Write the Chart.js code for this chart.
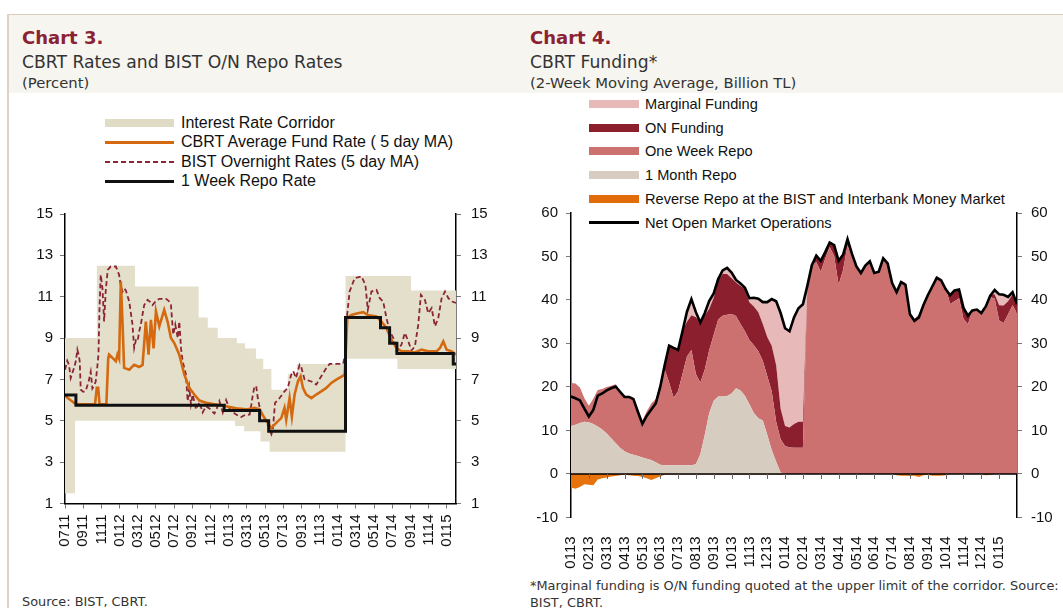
<!DOCTYPE html>
<html>
<head>
<meta charset="utf-8">
<script src="https://cdn.jsdelivr.net/npm/chart.js@4/dist/chart.umd.min.js"></script>
<style>
  body { margin: 0; width: 1063px; height: 608px; overflow: hidden; background: #fff; position: relative; }
  .abs { position: absolute; white-space: nowrap; }
  .band { left: 7px; top: 14px; width: 1056px; height: 78px; background: #f7f5f0; border-top: 1px solid #d9ccb8; }
  .vline { left: 7px; top: 14px; width: 2px; height: 594px; background: #ddd2c2; }
  .ttl { font-family: "DejaVu Sans", sans-serif; font-weight: bold; font-size: 18px; color: #8b2232; }
  .sub { font-family: "DejaVu Sans", sans-serif; font-size: 17.2px; color: #333; }
  .unit { font-family: "DejaVu Sans", sans-serif; font-size: 14.8px; color: #333; }
  .note { font-family: "DejaVu Sans", sans-serif; font-size: 12.9px; color: #333; }
  .leg { font-family: "Liberation Sans", Arial, sans-serif; color: #111; line-height: 20px; height: 20px; }
  .sw { position: absolute; }
  canvas { position: absolute; }
</style>
</head>
<body>
<div class="abs band"></div>
<div class="abs vline"></div>

<div class="abs ttl" style="left:22px; top:27px;">Chart 3.</div>
<div class="abs sub" style="left:22px; top:52px;">CBRT Rates and BIST O/N Repo Rates</div>
<div class="abs unit" style="left:22px; top:74px;">(Percent)</div>

<div class="abs ttl" style="left:530px; top:27px;">Chart 4.</div>
<div class="abs sub" style="left:530px; top:52px;">CBRT Funding*</div>
<div class="abs unit" style="left:530px; top:74px;">(2-Week Moving Average, Billion TL)</div>

<div id="legLeft"></div>
<div id="legRight"></div>

<canvas id="rates" width="520" height="370" style="left:0; top:195px;"></canvas>
<canvas id="funding" width="533" height="380" style="left:530px; top:195px;"></canvas>

<div class="abs note" style="left:22px; top:594px;">Source: BIST, CBRT.</div>
<div class="abs note" style="left:530px; top:578px;">*Marginal funding is O/N funding quoted at the upper limit of the corridor. Source:</div>
<div class="abs note" style="left:530px; top:595px;">BIST, CBRT.</div>

<script>
// ---- Chart 3 data (x = months since Jul 2011) ----
const leftTickLabels = ['0711','0911','1111','0112','0312','0512','0712','0912','1112','0113','0313',
  '0513','0713','0913','1113','0114','0314','0514','0714','0914','1114','0115'];

const corridorX     = [0, 1.1, 3.5, 7.7, 14.7, 15.7, 16.8, 18.7, 18.9, 19.7, 19.8, 21.0, 21.5, 21.8, 22.5, 22.7, 24.5, 25.5, 30.85, 36.55, 38.05, 43];
const corridorUpper = [9, 9, 12.5, 11.5, 10, 9.5, 9, 9, 8.75, 8.75, 8.5, 8, 8, 7.5, 7.5, 6.5, 7.25, 7.75, 12, 12, 11.3, 11.3];
const corridorLower = [1.5, 5, 5, 5, 5, 5, 5, 4.75, 4.75, 4.5, 4.5, 4.5, 4, 4, 3.5, 3.5, 3.5, 3.5, 8, 7.5, 7.5, 7.5];

const repoX = [0, 1.2, 17.5, 21.4, 22.4, 30.85, 34.7, 35.7, 36.5, 42.7, 43];
const repoY = [6.25, 5.75, 5.5, 5, 4.5, 10, 9.5, 8.75, 8.25, 7.75, 7.75];

const bistX = [0, 0.25, 0.44, 0.63, 0.8, 0.99, 1.2, 1.36, 1.5, 1.62, 1.73, 2.0, 2.28, 2.6, 2.83, 3.01, 3.2, 3.38, 3.55, 3.68, 3.8, 3.93,
  4.12, 4.3, 4.48, 4.7, 5.03, 5.59, 5.95, 6.15, 6.32, 6.5, 6.69, 7.06, 7.25, 7.42, 7.61, 7.8, 7.98, 8.15, 8.34, 8.55, 8.71, 9.08,
  9.35, 9.63, 10.0, 10.37, 11.1, 11.4, 11.65, 11.9, 12.13, 12.4, 12.57, 12.76, 12.94, 13.3, 13.49, 13.67, 13.85, 14.04, 14.41,
  14.78, 15.14, 15.5, 15.88, 16.43, 16.7, 16.98, 17.35, 17.72, 18.08, 18.5, 18.82, 19.37, 19.9, 20.3, 20.5, 20.66, 20.84, 21.03,
  21.2, 21.5, 21.94, 22.3, 22.7, 22.86, 23.1, 23.6, 24.14, 24.5, 24.88, 25.1, 25.4, 25.8, 25.98, 26.35, 26.7, 27.1, 27.63, 28.18,
  28.74, 29.1, 30.58, 30.8, 30.95, 31.3, 31.86, 32.6, 33.04, 33.3, 33.7, 34.25, 34.62, 34.99, 35.35, 35.72, 36.2, 36.46, 37.0,
  37.38, 37.75, 38.11, 38.48, 38.85, 39.14, 39.58, 39.95, 40.32, 40.69, 41.05, 41.42, 41.79, 42.16, 42.53, 43];
const bistY = [7.47, 7.9, 7.71, 7.07, 7.3, 7.55, 7.9, 8.44, 8.2, 7.88, 6.5, 6.4, 6.45, 6.9, 7.37, 6.56, 6.7, 6.9, 7.6, 8.2, 10.5, 12.06,
  11.4, 9.8, 11.3, 12.3, 12.46, 12.46, 12.06, 11.5, 11.25, 11.4, 11.3, 10.77, 10.2, 9.65, 8.52, 8.9, 8.85, 9.3, 9.65, 10.2, 10.6, 10.85,
  10.75, 10.6, 10.8, 10.9, 10.9, 10.8, 10.6, 9.17, 9.65, 9.0, 9.8, 8.5, 7.88, 7.24, 5.95, 6.59, 5.8, 6.27, 5.55,
  5.9, 5.4, 5.7, 5.6, 5.35, 5.6, 5.95, 5.4, 6.0, 5.6, 5.4, 5.3, 5.18, 5.3, 5.3, 5.8, 6.27, 6.66, 6.67,
  6.1, 5.45, 5.13, 4.8, 4.35, 4.6, 5.86, 6.1, 6.42, 6.59, 7.23, 7.4, 7.07, 7.71, 7.6, 6.99, 6.95, 6.9, 6.75, 7.15,
  7.55, 7.75, 7.75, 8.2, 9.8, 11.25, 11.9, 11.98, 11.57, 10.36, 11.25, 11.33, 10.93, 10.77, 9.97, 9.33, 8.92, 8.36, 8.68,
  9.25, 8.84, 8.4, 8.6, 9.65, 11.09, 10.85, 10.2, 10.45, 9.57, 9.97, 10.93, 11.25, 10.93, 10.77, 10.7];

const cbrtX = [0, 1.2, 3.3, 3.5, 3.65, 3.8, 4.55, 4.75, 4.85, 5.22, 5.59, 5.77, 5.95, 6.14, 6.32, 6.5, 7.06, 7.61, 8.16, 8.53, 8.89,
  9.19, 9.45, 9.74, 10.0, 10.37, 10.91, 11.28, 11.65, 12.02, 12.57, 13.12, 13.67, 14.22, 14.78, 15.51, 16.6, 17.72, 18.82, 19.92,
  20.84, 21.4, 21.94, 22.68, 23.2, 23.78, 24.14, 24.33, 24.7, 24.95, 25.25, 25.62, 25.91, 26.17, 26.53, 27.1, 27.63, 28.18, 28.74,
  29.29, 29.84, 30.46, 30.76, 31.05, 31.5, 32.2, 32.8, 33.3, 34.25, 34.8, 35.35, 35.9, 36.46, 37.0, 37.75, 38.48, 39.2, 39.95,
  40.87, 41.24, 41.6, 41.97, 42.53, 43];
const cbrtY = [6.2, 5.8, 5.8, 6.6, 6.6, 5.8, 5.8, 8.0, 8.2, 8.04, 7.88, 8.2, 8.0, 11.74, 9.8, 7.56, 7.47, 7.71, 7.6, 7.7, 9.8,
  8.2, 9.88, 8.5, 10.3, 9.57, 10.36, 9.8, 9.0, 8.76, 8.2, 7.24, 6.59, 6.27, 5.98, 5.87, 5.79, 5.7, 5.6, 5.55,
  5.63, 5.55, 5.13, 4.65, 4.89, 5.13, 5.63, 5.05, 6.1, 5.2, 6.27, 6.91, 7.15, 6.59, 6.27, 6.1, 6.27, 6.42, 6.59,
  6.83, 6.99, 7.15, 7.24, 9.97, 10.12, 10.2, 10.25, 10.12, 10.04, 9.8, 9.49, 8.92, 8.52, 8.36, 8.36, 8.3, 8.44, 8.36,
  8.36, 8.52, 8.84, 8.44, 8.36, 8.2];

// ---- Chart 4 data (weekly, x = months since Jan 2013) ----
const rightTickLabels = ['0113','0213','0313','0413','0513','0613','0713','0813','0913','1013','1113','1213',
  '0114','0214','0314','0414','0514','0614','0714','0814','0914','1014','1114','1214','0115'];

const oneMonthRepo = [11.0, 11.3, 11.7, 12.0, 11.9, 11.5, 10.9, 10.2, 9.3, 8.2, 7.1, 6.0, 5.2, 4.7, 4.4, 4.1, 3.8, 3.5, 3.2, 2.7,
  2.1, 2.0, 2.0, 2.0, 2.0, 2.0, 2.0, 2.0, 2.2, 4.5, 9.0, 14.0, 16.8, 17.8, 17.8, 17.9, 18.5, 19.7, 19.2, 18.0,
  16.0, 14.0, 12.8, 12.3, 9.0, 5.5, 2.8, 0.3, 0, 0, 0, 0, 0, 0, 0, 0, 0, 0, 0, 0,
  0, 0, 0, 0, 0, 0, 0, 0, 0, 0, 0, 0, 0, 0, 0, 0, 0, 0, 0, 0,
  0, 0, 0, 0, 0, 0, 0, 0, 0, 0, 0, 0, 0, 0, 0, 0, 0, 0, 0, 0, 0];
const oneWeekRepo = [9.9, 9.5, 8.2, 5.4, 3.8, 5.8, 8.4, 9.3, 10.7, 12.1, 13.5, 13.2, 12.7, 13.3, 13.2, 10.7, 8.4, 10.9, 13.0, 14.5,
  18.5, 22.0, 19.0, 15.5, 17.0, 21.0, 25.0, 26.5, 20.8, 16.5, 15.0, 14.5, 15.2, 17.7, 18.6, 18.7, 18.3, 16.6, 15.3, 14.8,
  14.8, 15.6, 15.4, 13.7, 13.5, 13.5, 9.2, 7.7, 6.4, 6.1, 6.0, 6.0, 6.0, 43.3, 48.0, 48.7, 46.5, 49.5, 52.2, 50.1,
  43.5, 46.9, 52.5, 50.1, 47.7, 46.2, 47.9, 48.9, 46.2, 46.5, 49.6, 48.4, 43.9, 42.1, 44.5, 43.9, 37.2, 35.6, 36.7, 39.1,
  41.3, 43.5, 45.5, 44.9, 42.8, 39.1, 39.7, 40.4, 35.7, 34.4, 37.6, 37.8, 37.0, 38.8, 40.7, 40.3, 35.3, 34.7, 36.7, 38.8, 37.0];
const onFunding = [0, 0, 0, 0, 0, 0, 0, 0, 0, 0, 0, 0, 0, 0, 0, 0, 0, 0, 0, 0,
  0, 1.2, 8.65, 11.65, 9.65, 9.95, 8.0, 8.0, 13.0, 13.95, 12.5, 9.5, 8.5, 9.0, 9.6, 9.4, 8.2, 7.7, 8.7, 9.7,
  8.7, 8.9, 9.0, 8.5, 9.0, 10.5, 13.0, 7.0, 4.6, 4.6, 5.5, 6.0, 6.0, 0, 0, 1.5, 2.5, 1.5, 1.0, 2.5,
  5.5, 3.5, 1.5, 0.5, 0, 0, 0, 0, 0, 0, 0, 0, 0, 0, 0, 0, 0, 0, 0, 0,
  0, 0, 0, 0, 0, 2.0, 2.5, 2.0, 2.5, 2.0, 0, 0, 0, 0, 0.5, 1.0, 3.5, 4.0, 3.0, 2.5, 2.0];
const marginalFunding = [0, 0, 0, 0, 0, 0, 0, 0, 0, 0, 0, 0, 0, 0, 0, 0, 0, 0, 0, 0,
  0, 0, 0, 0, 0, 0, 2.45, 3.85, 1.35, 0, 0.65, 1.95, 1.15, 0.45, 0.95, 1.55, 1.45, 0.75, 0.75, 0.45,
  1.05, 2.15, 3.25, 5.15, 8.15, 10.85, 14.85, 22.15, 22.5, 22.1, 24.5, 26.1, 27.0, 0, 0, 0, 0, 0, 0, 0,
  0, 0, 0, 0, 0, 0, 0, 0, 0, 0, 0, 0, 0, 0, 0, 0, 0, 0, 0, 0,
  0, 0, 0, 0, 0, 0, 0, 0, 0, 0, 0, 0, 0, 0, 0, 1.0, 2.5, 2.5, 1.0, 0.5, 0];
const reverseRepo = [-3.1, -3.4, -3.0, -2.4, -2.5, -2.6, -1.3, -1.0, -0.8, -0.6, -0.5, -0.3, -0.2, -0.3, -0.4, -0.5, -0.7, -1.0, -1.4, -1.0,
  -0.6, -0.2, -0.15, -0.15, -0.15, -0.15, -0.15, -0.15, -0.15, -0.15, -0.15, -0.15, -0.15, -0.15, -0.15, -0.15, -0.15, -0.15, -0.15, -0.15,
  -0.15, -0.15, -0.15, -0.15, -0.15, -0.15, -0.15, -0.15, 0, 0, 0, 0, 0, 0, 0, 0, 0, 0, 0, 0,
  0, 0, 0, 0, 0, 0, 0, 0, 0, 0, 0, 0, 0, -0.3, -0.4, -0.4, -0.5, -0.4, -0.7, -0.3,
  -0.2, -0.4, -0.4, -0.4, -0.3, 0, 0, 0, 0, 0, 0, 0, 0, -0.3, -0.2, 0, 0, 0, 0, 0, 0];
const netOMO = [17.8, 17.4, 16.9, 15.0, 13.2, 14.7, 18.0, 18.5, 19.2, 19.7, 20.1, 18.9, 17.7, 17.7, 17.2, 14.3, 11.5, 13.4, 14.8, 16.2,
  20.0, 25.0, 29.5, 29.0, 28.5, 32.8, 37.3, 40.2, 37.2, 34.8, 37.0, 39.8, 41.5, 44.8, 46.8, 47.4, 46.3, 44.6, 43.8, 42.8,
  40.4, 40.5, 40.3, 39.5, 39.5, 40.2, 39.7, 37.0, 33.5, 32.8, 36.0, 38.1, 39.0, 43.3, 48.0, 50.2, 49.0, 51.0, 53.2, 52.6,
  49.0, 50.4, 54.0, 50.6, 47.7, 46.2, 47.9, 48.9, 46.2, 46.5, 49.6, 48.4, 43.9, 41.8, 44.1, 43.5, 36.7, 35.2, 36.0, 38.8,
  41.1, 43.1, 45.1, 44.5, 42.5, 41.1, 42.2, 42.4, 38.2, 36.4, 37.6, 37.8, 37.0, 38.5, 41.0, 42.3, 41.3, 41.2, 40.7, 41.8, 39.0];

// weekly observations, expressed in months
const weeks = netOMO.map((_, i) => i / 4);

function pts(xs, ys) {
    return xs.map((x, i) => ({ x: x, y: ys[i] }));
}

// ---- legends (html, one row each) ----
function buildLegend(el, items, left, top, step, swW, textLeft, size) {
    items.forEach((it, i) => {
        const row = document.createElement('div');
        row.className = 'abs leg';
        row.style.left = left + 'px';
        row.style.top = (top + i * step - 10) + 'px';
        row.style.fontSize = size + 'px';
        const sw = document.createElement('span');
        sw.className = 'sw';
        sw.style.left = '0px';
        sw.style.width = swW + 'px';
        sw.style.height = it.h + 'px';
        sw.style.top = (10 - it.h / 2) + 'px';
        sw.style.background = it.bg;
        row.appendChild(sw);
        const tx = document.createElement('span');
        tx.style.position = 'absolute';
        tx.style.left = textLeft + 'px';
        tx.textContent = it.label;
        row.appendChild(tx);
        el.appendChild(row);
    });
}

buildLegend(document.getElementById('legLeft'), [
    { label: 'Interest Rate Corridor', bg: '#e0dbc4', h: 8 },
    { label: 'CBRT Average Fund Rate ( 5 day MA)', bg: '#d4690f', h: 3 },
    { label: 'BIST Overnight Rates (5 day MA)', bg: 'repeating-linear-gradient(90deg, #8b2535 0 5px, transparent 5px 8px)', h: 2 },
    { label: '1 Week Repo Rate', bg: '#111', h: 3 }
], 105, 123, 19.4, 69, 76, 16);

buildLegend(document.getElementById('legRight'), [
    { label: 'Marginal Funding', bg: '#e8b9b9', h: 8 },
    { label: 'ON Funding', bg: '#8b1f2e', h: 8 },
    { label: 'One Week Repo', bg: '#cc7070', h: 8 },
    { label: '1 Month Repo', bg: '#d6ccbf', h: 8 },
    { label: 'Reverse Repo at the BIST and Interbank Money Market', bg: '#e36c0a', h: 8 },
    { label: 'Net Open Market Operations', bg: '#000', h: 3 }
], 589, 104, 23.7, 50, 56, 14.6);

Chart.defaults.font.family = '"Liberation Sans", Arial, sans-serif';
Chart.defaults.font.size = 15;
Chart.defaults.color = '#111';

function yAxis(pos, min, max, step, width, pad) {
    return {
        position: pos, min: min, max: max,
        ticks: { stepSize: step, padding: pad, color: '#111' },
        grid: { drawOnChartArea: false, tickLength: 5, color: '#777' },
        border: { color: '#000', width: 1.5 },
        afterFit: s => { s.width = width; }
    };
}

// ---- Chart 3 ----
new Chart(document.getElementById('rates'), {
    type: 'line',
    data: {
        datasets: [
            { label: 'lower', data: pts(corridorX, corridorLower), stepped: 'before', borderColor: 'rgba(0,0,0,0)', borderWidth: 1, fill: false, order: 10 },
            { label: 'Interest Rate Corridor', data: pts(corridorX, corridorUpper), stepped: 'before', borderColor: 'rgba(0,0,0,0)', borderWidth: 1, backgroundColor: '#e3dfcb', fill: '-1', order: 9 },
            { label: 'BIST Overnight Rates (5 day MA)', data: pts(bistX, bistY), borderColor: '#8b2535', borderWidth: 1.8, borderDash: [5, 3], fill: false, order: 3 },
            { label: 'CBRT Average Fund Rate ( 5 day MA)', data: pts(cbrtX, cbrtY), borderColor: '#d4690f', borderWidth: 2.6, fill: false, order: 2 },
            { label: '1 Week Repo Rate', data: pts(repoX, repoY), stepped: 'before', borderColor: '#111', borderWidth: 3, fill: false, order: 1 }
        ]
    },
    options: {
        responsive: false, animation: false,
        elements: { point: { radius: 0 }, line: { tension: 0 } },
        layout: { padding: { top: 19, bottom: 0, left: 0, right: 0 } },
        plugins: { legend: { display: false }, tooltip: { enabled: false } },
        scales: {
            x: {
                type: 'linear', min: 0, max: 43,
                ticks: { stepSize: 2, includeBounds: false, autoSkip: false, minRotation: 90, maxRotation: 90, padding: 6,
                         color: '#111', callback: v => leftTickLabels[v / 2] },
                grid: { drawOnChartArea: false, tickLength: 5, color: '#777' },
                border: { color: '#000', width: 1.5 },
                afterFit: s => { s.height = 61.5; }
            },
            y: yAxis('left', 1, 15, 2, 65, 7),
            y2: yAxis('right', 1, 15, 2, 64, 10)
        }
    }
});

// ---- Chart 4 ----
const zeroLine = {
    id: 'zeroLine',
    afterDatasetsDraw(chart) {
        const { ctx, chartArea, scales } = chart;
        const y0 = scales.y.getPixelForValue(0);
        ctx.save();
        ctx.strokeStyle = '#000';
        ctx.lineWidth = 1.5;
        ctx.beginPath();
        ctx.moveTo(chartArea.left, y0);
        ctx.lineTo(chartArea.right, y0);
        ctx.stroke();
        ctx.strokeStyle = '#666';
        ctx.lineWidth = 1;
        ctx.beginPath();
        for (let m = 1; m < rightTickLabels.length; m++) {
            const px = Math.round(scales.x.getPixelForValue(m)) + 0.5;
            ctx.moveTo(px, y0);
            ctx.lineTo(px, y0 + 5);
        }
        ctx.stroke();
        ctx.restore();
    }
};

// stacking follows "order": lowest order sits at the bottom of the stack
const area = (label, values, color, fill, order) => ({
    label: label, data: pts(weeks, values), backgroundColor: color, borderColor: 'rgba(0,0,0,0)',
    borderWidth: 1, fill: fill, order: order
});

new Chart(document.getElementById('funding'), {
    type: 'line',
    data: {
        datasets: [
            area('1 Month Repo', oneMonthRepo, '#d6ccbf', 'origin', 1),
            area('One Week Repo', oneWeekRepo, '#cc7070', '-1', 2),
            area('ON Funding', onFunding, '#8b1f2e', '-1', 3),
            area('Marginal Funding', marginalFunding, '#e8b9b9', '-1', 4),
            Object.assign(area('Reverse Repo at the BIST and Interbank Money Market', reverseRepo, '#e8720c', 'origin', 5), { stack: 'rev' }),
            { label: 'Net Open Market Operations', data: pts(weeks, netOMO), stack: 'net', borderColor: '#000', borderWidth: 2.6, fill: false, order: 0 }
        ]
    },
    options: {
        responsive: false, animation: false,
        elements: { point: { radius: 0 }, line: { tension: 0 } },
        layout: { padding: { top: 15, bottom: 0, left: 0, right: 0 } },
        plugins: { legend: { display: false }, tooltip: { enabled: false } },
        scales: {
            x: {
                type: 'linear', min: 0, max: 25,
                ticks: { stepSize: 1, includeBounds: false, autoSkip: false, minRotation: 90, maxRotation: 90, padding: 11,
                         color: '#111', callback: v => rightTickLabels[v] || '' },
                grid: { display: false },
                border: { display: false },
                afterFit: s => { s.height = 57.6; }
            },
            y: Object.assign(yAxis('left', -10, 60, 10, 41, 8), { stacked: true }),
            y2: yAxis('right', -10, 60, 10, 46, 9)
        }
    },
    plugins: [zeroLine]
});
</script>
</body>
</html>
